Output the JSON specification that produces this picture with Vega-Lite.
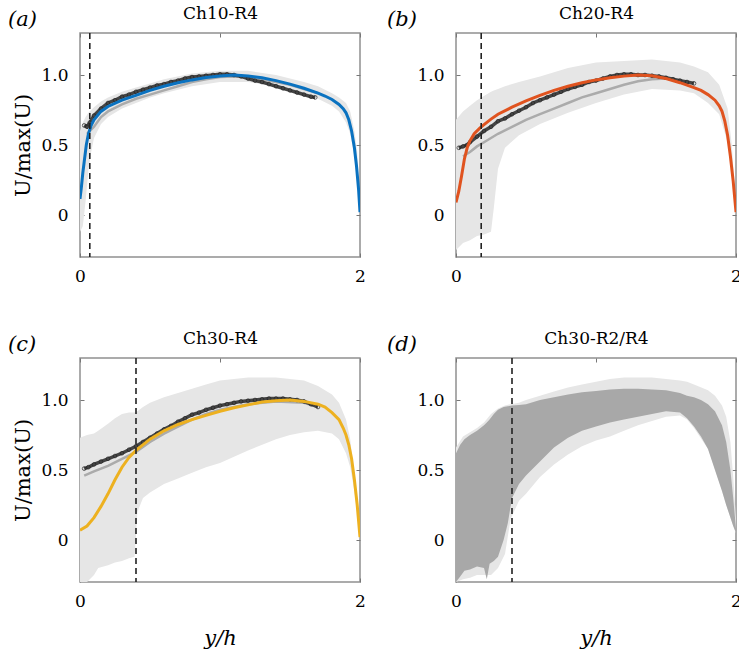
{
"$schema":"https://vega.github.io/schema/vega-lite/v6.json",
"padding":{"left":7,"top":3,"right":0,"bottom":0},
"config":{"view":{"stroke":"#909090","strokeWidth":1.5},"font":"DejaVu Serif",
 "title":{"font":"DejaVu Serif","fontSize":21,"fontWeight":"normal","color":"#000"},
 "axis":{"domain":false,"grid":false,"labelFlush":false,"labelFont":"DejaVu Serif","labelFontSize":17,"labelColor":"#000","tickColor":"#777","tickSize":-4,"tickWidth":1,"labelPadding":15,"titleFont":"DejaVu Serif","titleFontSize":21,"titleFontWeight":"normal","titleColor":"#000"},
 "axisY":{"labelPadding":16}},
"datasets":{
"a_env":[{"x":0,"lo":-0.12,"hi":0.6},{"x":0.02,"lo":-0.08,"hi":0.66},{"x":0.04,"lo":0.1,"hi":0.7},{"x":0.06,"lo":0.32,"hi":0.73},{"x":0.08,"lo":0.45,"hi":0.75},{"x":0.1,"lo":0.55,"hi":0.77},{"x":0.15,"lo":0.65,"hi":0.81},{"x":0.2,"lo":0.7,"hi":0.84},{"x":0.3,"lo":0.76,"hi":0.88},{"x":0.4,"lo":0.8,"hi":0.91},{"x":0.5,"lo":0.84,"hi":0.94},{"x":0.6,"lo":0.87,"hi":0.97},{"x":0.8,"lo":0.92,"hi":1.01},{"x":1.0,"lo":0.95,"hi":1.03},{"x":1.2,"lo":0.95,"hi":1.03},{"x":1.4,"lo":0.92,"hi":1.0},{"x":1.6,"lo":0.86,"hi":0.95},{"x":1.7,"lo":0.83,"hi":0.92},{"x":1.8,"lo":0.78,"hi":0.87},{"x":1.85,"lo":0.74,"hi":0.84},{"x":1.9,"lo":0.66,"hi":0.8},{"x":1.93,"lo":0.58,"hi":0.74},{"x":1.96,"lo":0.42,"hi":0.6},{"x":1.98,"lo":0.25,"hi":0.45},{"x":2.0,"lo":0.0,"hi":0.1}],
"a_fit":[{"x":0,"u":0.115},{"x":0.01,"u":0.2},{"x":0.02,"u":0.3},{"x":0.03,"u":0.38},{"x":0.045,"u":0.5},{"x":0.06,"u":0.58},{"x":0.08,"u":0.64},{"x":0.1,"u":0.68},{"x":0.15,"u":0.74},{"x":0.2,"u":0.775},{"x":0.3,"u":0.82},{"x":0.4,"u":0.855},{"x":0.5,"u":0.89},{"x":0.6,"u":0.92},{"x":0.7,"u":0.945},{"x":0.8,"u":0.965},{"x":0.9,"u":0.982},{"x":1.0,"u":0.993},{"x":1.1,"u":1.0},{"x":1.2,"u":0.993},{"x":1.3,"u":0.98},{"x":1.4,"u":0.96},{"x":1.5,"u":0.935},{"x":1.6,"u":0.905},{"x":1.7,"u":0.87},{"x":1.75,"u":0.85},{"x":1.8,"u":0.825},{"x":1.85,"u":0.79},{"x":1.88,"u":0.76},{"x":1.9,"u":0.73},{"x":1.92,"u":0.68},{"x":1.94,"u":0.6},{"x":1.96,"u":0.48},{"x":1.975,"u":0.35},{"x":1.99,"u":0.18},{"x":2.0,"u":0.02}],
"a_dark":[{"x":0.03,"u":0.64},{"x":0.05,"u":0.63},{"x":0.07,"u":0.66},{"x":0.1,"u":0.71},{"x":0.15,"u":0.76},{"x":0.2,"u":0.8},{"x":0.25,"u":0.82},{"x":0.3,"u":0.845},{"x":0.35,"u":0.86},{"x":0.4,"u":0.88},{"x":0.45,"u":0.895},{"x":0.5,"u":0.91},{"x":0.55,"u":0.925},{"x":0.6,"u":0.935},{"x":0.65,"u":0.95},{"x":0.7,"u":0.96},{"x":0.75,"u":0.975},{"x":0.8,"u":0.985},{"x":0.85,"u":0.99},{"x":0.9,"u":0.995},{"x":0.95,"u":1.0},{"x":1.0,"u":1.005},{"x":1.05,"u":1.005},{"x":1.1,"u":1.0},{"x":1.15,"u":0.99},{"x":1.2,"u":0.975},{"x":1.25,"u":0.96},{"x":1.3,"u":0.95},{"x":1.35,"u":0.935},{"x":1.4,"u":0.92},{"x":1.45,"u":0.905},{"x":1.5,"u":0.89},{"x":1.55,"u":0.875},{"x":1.6,"u":0.86},{"x":1.65,"u":0.845},{"x":1.68,"u":0.84}],
"a_gray":[{"x":0.05,"u":0.58},{"x":0.1,"u":0.63},{"x":0.15,"u":0.7},{"x":0.2,"u":0.74},{"x":0.3,"u":0.79},{"x":0.4,"u":0.83},{"x":0.5,"u":0.86},{"x":0.6,"u":0.89},{"x":0.7,"u":0.92},{"x":0.8,"u":0.95},{"x":0.9,"u":0.97},{"x":1.0,"u":0.985},{"x":1.1,"u":0.99},{"x":1.2,"u":0.985},{"x":1.3,"u":0.97},{"x":1.4,"u":0.95},{"x":1.5,"u":0.93},{"x":1.6,"u":0.9},{"x":1.7,"u":0.87}],
"a_cut":[{"x":0.07}],
"b_env":[{"x":0,"lo":-0.25,"hi":0.68},{"x":0.05,"lo":-0.2,"hi":0.74},{"x":0.1,"lo":-0.18,"hi":0.78},{"x":0.15,"lo":-0.15,"hi":0.82},{"x":0.2,"lo":-0.14,"hi":0.85},{"x":0.25,"lo":-0.12,"hi":0.88},{"x":0.27,"lo":0.05,"hi":0.89},{"x":0.3,"lo":0.33,"hi":0.9},{"x":0.35,"lo":0.48,"hi":0.92},{"x":0.45,"lo":0.57,"hi":0.95},{"x":0.6,"lo":0.65,"hi":0.99},{"x":0.8,"lo":0.73,"hi":1.05},{"x":1.0,"lo":0.8,"hi":1.09},{"x":1.2,"lo":0.86,"hi":1.1},{"x":1.4,"lo":0.9,"hi":1.11},{"x":1.6,"lo":0.89,"hi":1.09},{"x":1.7,"lo":0.87,"hi":1.06},{"x":1.8,"lo":0.8,"hi":1.02},{"x":1.88,"lo":0.72,"hi":0.93},{"x":1.94,"lo":0.52,"hi":0.76},{"x":1.97,"lo":0.3,"hi":0.5},{"x":2.0,"lo":0.0,"hi":0.05}],
"b_fit":[{"x":0,"u":0.09},{"x":0.02,"u":0.17},{"x":0.04,"u":0.28},{"x":0.06,"u":0.4},{"x":0.08,"u":0.48},{"x":0.1,"u":0.53},{"x":0.13,"u":0.58},{"x":0.17,"u":0.62},{"x":0.2,"u":0.645},{"x":0.25,"u":0.685},{"x":0.3,"u":0.72},{"x":0.4,"u":0.77},{"x":0.5,"u":0.815},{"x":0.6,"u":0.855},{"x":0.7,"u":0.89},{"x":0.8,"u":0.92},{"x":0.9,"u":0.945},{"x":1.0,"u":0.965},{"x":1.1,"u":0.98},{"x":1.2,"u":0.992},{"x":1.3,"u":1.0},{"x":1.4,"u":0.995},{"x":1.5,"u":0.975},{"x":1.6,"u":0.945},{"x":1.7,"u":0.91},{"x":1.75,"u":0.89},{"x":1.8,"u":0.86},{"x":1.85,"u":0.82},{"x":1.88,"u":0.78},{"x":1.9,"u":0.74},{"x":1.92,"u":0.67},{"x":1.94,"u":0.57},{"x":1.96,"u":0.42},{"x":1.98,"u":0.24},{"x":2.0,"u":0.02}],
"b_dark":[{"x":0.02,"u":0.48},{"x":0.05,"u":0.49},{"x":0.08,"u":0.5},{"x":0.1,"u":0.52},{"x":0.15,"u":0.56},{"x":0.2,"u":0.6},{"x":0.25,"u":0.63},{"x":0.3,"u":0.67},{"x":0.35,"u":0.69},{"x":0.4,"u":0.72},{"x":0.45,"u":0.745},{"x":0.5,"u":0.77},{"x":0.55,"u":0.8},{"x":0.6,"u":0.82},{"x":0.65,"u":0.84},{"x":0.7,"u":0.86},{"x":0.75,"u":0.88},{"x":0.8,"u":0.9},{"x":0.85,"u":0.915},{"x":0.9,"u":0.93},{"x":0.95,"u":0.95},{"x":1.0,"u":0.96},{"x":1.05,"u":0.975},{"x":1.1,"u":0.99},{"x":1.15,"u":1.0},{"x":1.2,"u":1.005},{"x":1.25,"u":1.005},{"x":1.3,"u":1.0},{"x":1.35,"u":1.0},{"x":1.4,"u":0.995},{"x":1.45,"u":0.99},{"x":1.5,"u":0.98},{"x":1.55,"u":0.97},{"x":1.6,"u":0.96},{"x":1.65,"u":0.95},{"x":1.7,"u":0.94}],
"b_gray":[{"x":0.05,"u":0.42},{"x":0.1,"u":0.45},{"x":0.15,"u":0.49},{"x":0.2,"u":0.52},{"x":0.3,"u":0.58},{"x":0.4,"u":0.63},{"x":0.5,"u":0.68},{"x":0.6,"u":0.72},{"x":0.7,"u":0.76},{"x":0.8,"u":0.8},{"x":0.9,"u":0.84},{"x":1.0,"u":0.87},{"x":1.1,"u":0.9},{"x":1.2,"u":0.93},{"x":1.3,"u":0.955},{"x":1.4,"u":0.97},{"x":1.5,"u":0.975},{"x":1.6,"u":0.96},{"x":1.7,"u":0.94}],
"b_cut":[{"x":0.18}],
"c_env":[{"x":0,"lo":-0.3,"hi":0.73},{"x":0.05,"lo":-0.3,"hi":0.75},{"x":0.1,"lo":-0.25,"hi":0.76},{"x":0.13,"lo":-0.2,"hi":0.78},{"x":0.2,"lo":-0.18,"hi":0.83},{"x":0.25,"lo":-0.16,"hi":0.87},{"x":0.3,"lo":-0.15,"hi":0.9},{"x":0.35,"lo":-0.13,"hi":0.91},{"x":0.39,"lo":-0.12,"hi":0.91},{"x":0.41,"lo":0.2,"hi":0.92},{"x":0.45,"lo":0.3,"hi":0.95},{"x":0.5,"lo":0.34,"hi":0.98},{"x":0.6,"lo":0.4,"hi":1.02},{"x":0.7,"lo":0.44,"hi":1.05},{"x":0.8,"lo":0.48,"hi":1.08},{"x":0.9,"lo":0.52,"hi":1.11},{"x":1.0,"lo":0.55,"hi":1.14},{"x":1.2,"lo":0.64,"hi":1.16},{"x":1.4,"lo":0.72,"hi":1.16},{"x":1.5,"lo":0.75,"hi":1.15},{"x":1.6,"lo":0.77,"hi":1.14},{"x":1.7,"lo":0.78,"hi":1.1},{"x":1.8,"lo":0.76,"hi":1.04},{"x":1.85,"lo":0.72,"hi":0.98},{"x":1.9,"lo":0.62,"hi":0.86},{"x":1.93,"lo":0.52,"hi":0.72},{"x":1.96,"lo":0.35,"hi":0.45},{"x":1.98,"lo":0.2,"hi":0.25},{"x":2.0,"lo":0.0,"hi":0.05}],
"c_fit":[{"x":0,"u":0.07},{"x":0.05,"u":0.1},{"x":0.1,"u":0.16},{"x":0.15,"u":0.24},{"x":0.2,"u":0.33},{"x":0.25,"u":0.43},{"x":0.3,"u":0.52},{"x":0.35,"u":0.59},{"x":0.4,"u":0.64},{"x":0.5,"u":0.72},{"x":0.6,"u":0.78},{"x":0.7,"u":0.825},{"x":0.8,"u":0.86},{"x":0.9,"u":0.89},{"x":1.0,"u":0.92},{"x":1.1,"u":0.945},{"x":1.2,"u":0.965},{"x":1.3,"u":0.985},{"x":1.4,"u":0.995},{"x":1.5,"u":1.0},{"x":1.6,"u":0.99},{"x":1.7,"u":0.97},{"x":1.75,"u":0.95},{"x":1.8,"u":0.91},{"x":1.85,"u":0.86},{"x":1.88,"u":0.8},{"x":1.9,"u":0.75},{"x":1.92,"u":0.68},{"x":1.94,"u":0.58},{"x":1.96,"u":0.43},{"x":1.98,"u":0.25},{"x":2.0,"u":0.02}],
"c_dark":[{"x":0.03,"u":0.51},{"x":0.06,"u":0.52},{"x":0.1,"u":0.54},{"x":0.15,"u":0.56},{"x":0.2,"u":0.58},{"x":0.25,"u":0.6},{"x":0.3,"u":0.62},{"x":0.35,"u":0.645},{"x":0.4,"u":0.67},{"x":0.45,"u":0.7},{"x":0.5,"u":0.73},{"x":0.55,"u":0.76},{"x":0.6,"u":0.79},{"x":0.65,"u":0.815},{"x":0.7,"u":0.845},{"x":0.75,"u":0.87},{"x":0.8,"u":0.895},{"x":0.85,"u":0.91},{"x":0.9,"u":0.93},{"x":0.95,"u":0.945},{"x":1.0,"u":0.96},{"x":1.05,"u":0.97},{"x":1.1,"u":0.98},{"x":1.15,"u":0.99},{"x":1.2,"u":0.995},{"x":1.25,"u":1.0},{"x":1.3,"u":1.005},{"x":1.35,"u":1.01},{"x":1.4,"u":1.01},{"x":1.45,"u":1.01},{"x":1.5,"u":1.005},{"x":1.55,"u":1.0},{"x":1.6,"u":0.99},{"x":1.65,"u":0.97},{"x":1.7,"u":0.95}],
"c_gray":[{"x":0.03,"u":0.46},{"x":0.1,"u":0.49},{"x":0.2,"u":0.53},{"x":0.3,"u":0.58},{"x":0.4,"u":0.63},{"x":0.5,"u":0.7},{"x":0.6,"u":0.76},{"x":0.7,"u":0.81},{"x":0.8,"u":0.86},{"x":0.9,"u":0.9},{"x":1.0,"u":0.93},{"x":1.2,"u":0.97},{"x":1.4,"u":0.99},{"x":1.6,"u":0.98},{"x":1.7,"u":0.95}],
"c_cut":[{"x":0.4}],
"d_light":[{"x":0,"lo":-0.3,"hi":0.66},{"x":0.05,"lo":-0.28,"hi":0.74},{"x":0.1,"lo":-0.27,"hi":0.77},{"x":0.15,"lo":-0.25,"hi":0.8},{"x":0.2,"lo":-0.25,"hi":0.84},{"x":0.25,"lo":-0.25,"hi":0.9},{"x":0.3,"lo":-0.2,"hi":0.94},{"x":0.35,"lo":-0.1,"hi":0.96},{"x":0.39,"lo":0.15,"hi":0.97},{"x":0.45,"lo":0.28,"hi":0.98},{"x":0.5,"lo":0.33,"hi":1.0},{"x":0.6,"lo":0.45,"hi":1.03},{"x":0.7,"lo":0.54,"hi":1.06},{"x":0.8,"lo":0.61,"hi":1.09},{"x":0.9,"lo":0.67,"hi":1.11},{"x":1.0,"lo":0.71,"hi":1.13},{"x":1.1,"lo":0.74,"hi":1.15},{"x":1.2,"lo":0.78,"hi":1.16},{"x":1.3,"lo":0.82,"hi":1.16},{"x":1.4,"lo":0.85,"hi":1.16},{"x":1.5,"lo":0.88,"hi":1.15},{"x":1.6,"lo":0.89,"hi":1.14},{"x":1.65,"lo":0.86,"hi":1.13},{"x":1.7,"lo":0.8,"hi":1.11},{"x":1.8,"lo":0.65,"hi":1.07},{"x":1.85,"lo":0.5,"hi":1.03},{"x":1.9,"lo":0.35,"hi":0.96},{"x":1.93,"lo":0.25,"hi":0.88},{"x":1.96,"lo":0.16,"hi":0.7},{"x":1.98,"lo":0.1,"hi":0.45},{"x":2.0,"lo":0.05,"hi":0.15}],
"d_dark":[{"x":0,"lo":-0.3,"hi":0.62},{"x":0.03,"lo":-0.26,"hi":0.68},{"x":0.06,"lo":-0.22,"hi":0.72},{"x":0.1,"lo":-0.21,"hi":0.75},{"x":0.15,"lo":-0.19,"hi":0.78},{"x":0.2,"lo":-0.2,"hi":0.82},{"x":0.22,"lo":-0.28,"hi":0.84},{"x":0.24,"lo":-0.17,"hi":0.86},{"x":0.27,"lo":-0.15,"hi":0.9},{"x":0.3,"lo":-0.12,"hi":0.93},{"x":0.34,"lo":0.0,"hi":0.95},{"x":0.37,"lo":0.12,"hi":0.955},{"x":0.4,"lo":0.3,"hi":0.96},{"x":0.45,"lo":0.4,"hi":0.965},{"x":0.5,"lo":0.46,"hi":0.97},{"x":0.6,"lo":0.56,"hi":1.0},{"x":0.7,"lo":0.66,"hi":1.02},{"x":0.8,"lo":0.73,"hi":1.04},{"x":0.9,"lo":0.78,"hi":1.055},{"x":1.0,"lo":0.81,"hi":1.065},{"x":1.1,"lo":0.84,"hi":1.075},{"x":1.2,"lo":0.86,"hi":1.08},{"x":1.3,"lo":0.88,"hi":1.08},{"x":1.4,"lo":0.9,"hi":1.075},{"x":1.5,"lo":0.92,"hi":1.07},{"x":1.6,"lo":0.91,"hi":1.05},{"x":1.65,"lo":0.87,"hi":1.03},{"x":1.7,"lo":0.81,"hi":1.02},{"x":1.75,"lo":0.74,"hi":1.0},{"x":1.8,"lo":0.65,"hi":0.97},{"x":1.85,"lo":0.5,"hi":0.92},{"x":1.9,"lo":0.35,"hi":0.82},{"x":1.93,"lo":0.25,"hi":0.7},{"x":1.96,"lo":0.16,"hi":0.5},{"x":1.98,"lo":0.1,"hi":0.3},{"x":2.0,"lo":0.05,"hi":0.08}],
"d_cut":[{"x":0.4}]
},
"concat":[
{"width":280,"height":224,
 "title":{"text":"(a)","anchor":"start","frame":"group","dx":-72,"offset":-43,"baseline":"alphabetic","fontStyle":"italic"},
 "resolve":{"axis":{"x":"independent","y":"independent"}},
 "layer":[
  {"data":{"name":"a_env"},"mark":{"type":"area","color":"#e6e6e6","clip":true},"encoding":{"x":{"field":"x","type":"quantitative","scale":{"domain":[0,2],"nice":false},"axis":{"orient":"bottom","values":[0,1,2],"format":"d","title":null}},"y":{"field":"lo","type":"quantitative","scale":{"domain":[-0.3,1.3],"nice":false,"zero":false},"axis":{"orient":"left","values":[0,0.5,1],"labelExpr":"datum.value == 0 ? '0' : format(datum.value, '.1f')","title":"U/max(U)","titleX":-51,"titleY":112,"titleBaseline":"alphabetic"}},"y2":{"field":"hi"}}},
  {"data":{"name":"a_gray"},"mark":{"type":"line","color":"#ababab","strokeWidth":2.5,"clip":true},"encoding":{"x":{"field":"x","type":"quantitative","scale":{"domain":[0,2],"nice":false},"axis":null},"y":{"field":"u","type":"quantitative","scale":{"domain":[-0.3,1.3],"nice":false,"zero":false},"axis":null}}},
  {"data":{"name":"a_dark"},"mark":{"type":"line","color":"#444","strokeWidth":3.5,"clip":true},"encoding":{"x":{"field":"x","type":"quantitative","scale":{"domain":[0,2],"nice":false},"axis":null},"y":{"field":"u","type":"quantitative","scale":{"domain":[-0.3,1.3],"nice":false,"zero":false},"axis":null}}},
  {"data":{"name":"a_dark"},"mark":{"type":"point","shape":"circle","filled":false,"size":14,"color":"#222","strokeWidth":1,"clip":true},"encoding":{"x":{"field":"x","type":"quantitative","scale":{"domain":[0,2],"nice":false},"axis":null},"y":{"field":"u","type":"quantitative","scale":{"domain":[-0.3,1.3],"nice":false,"zero":false},"axis":null}}},
  {"data":{"name":"a_fit"},"mark":{"type":"line","color":"#0a72c0","strokeWidth":3,"clip":true},"encoding":{"x":{"field":"x","type":"quantitative","scale":{"domain":[0,2],"nice":false},"axis":{"orient":"top","values":[0,1,2],"labels":false,"title":"Ch10-R4","titleX":140,"titleY":-15,"titleBaseline":"alphabetic","titleFontSize":17}},"y":{"field":"u","type":"quantitative","scale":{"domain":[-0.3,1.3],"nice":false,"zero":false},"axis":{"orient":"right","values":[0,0.5,1],"labels":false,"title":null}}}},
  {"data":{"name":"a_cut"},"mark":{"type":"rule","color":"#222","strokeWidth":1.6,"strokeDash":[6,4]},"encoding":{"x":{"field":"x","type":"quantitative","scale":{"domain":[0,2],"nice":false},"axis":null}}}
 ]},
{"width":280,"height":224,
 "title":{"text":"(b)","anchor":"start","frame":"group","dx":-69,"offset":-43,"baseline":"alphabetic","fontStyle":"italic"},
 "resolve":{"axis":{"x":"independent","y":"independent"}},
 "layer":[
  {"data":{"name":"b_env"},"mark":{"type":"area","color":"#e6e6e6","clip":true},"encoding":{"x":{"field":"x","type":"quantitative","scale":{"domain":[0,2],"nice":false},"axis":{"orient":"bottom","values":[0,1,2],"format":"d","title":null}},"y":{"field":"lo","type":"quantitative","scale":{"domain":[-0.3,1.3],"nice":false,"zero":false},"axis":{"orient":"left","values":[0,0.5,1],"labelExpr":"datum.value == 0 ? '0' : format(datum.value, '.1f')","title":null}},"y2":{"field":"hi"}}},
  {"data":{"name":"b_gray"},"mark":{"type":"line","color":"#ababab","strokeWidth":2.5,"clip":true},"encoding":{"x":{"field":"x","type":"quantitative","scale":{"domain":[0,2],"nice":false},"axis":null},"y":{"field":"u","type":"quantitative","scale":{"domain":[-0.3,1.3],"nice":false,"zero":false},"axis":null}}},
  {"data":{"name":"b_dark"},"mark":{"type":"line","color":"#444","strokeWidth":3.5,"clip":true},"encoding":{"x":{"field":"x","type":"quantitative","scale":{"domain":[0,2],"nice":false},"axis":null},"y":{"field":"u","type":"quantitative","scale":{"domain":[-0.3,1.3],"nice":false,"zero":false},"axis":null}}},
  {"data":{"name":"b_dark"},"mark":{"type":"point","shape":"circle","filled":false,"size":14,"color":"#222","strokeWidth":1,"clip":true},"encoding":{"x":{"field":"x","type":"quantitative","scale":{"domain":[0,2],"nice":false},"axis":null},"y":{"field":"u","type":"quantitative","scale":{"domain":[-0.3,1.3],"nice":false,"zero":false},"axis":null}}},
  {"data":{"name":"b_fit"},"mark":{"type":"line","color":"#e0531f","strokeWidth":3,"clip":true},"encoding":{"x":{"field":"x","type":"quantitative","scale":{"domain":[0,2],"nice":false},"axis":{"orient":"top","values":[0,1,2],"labels":false,"title":"Ch20-R4","titleX":140,"titleY":-15,"titleBaseline":"alphabetic","titleFontSize":17}},"y":{"field":"u","type":"quantitative","scale":{"domain":[-0.3,1.3],"nice":false,"zero":false},"axis":{"orient":"right","values":[0,0.5,1],"labels":false,"title":null}}}},
  {"data":{"name":"b_cut"},"mark":{"type":"rule","color":"#222","strokeWidth":1.6,"strokeDash":[6,4]},"encoding":{"x":{"field":"x","type":"quantitative","scale":{"domain":[0,2],"nice":false},"axis":null}}}
 ]},
{"width":280,"height":224,
 "title":{"text":"(c)","anchor":"start","frame":"group","dx":-72,"offset":-43,"baseline":"alphabetic","fontStyle":"italic"},
 "resolve":{"axis":{"x":"independent","y":"independent"}},
 "layer":[
  {"data":{"name":"c_env"},"mark":{"type":"area","color":"#e6e6e6","clip":true},"encoding":{"x":{"field":"x","type":"quantitative","scale":{"domain":[0,2],"nice":false},"axis":{"orient":"bottom","values":[0,1,2],"format":"d","title":"y/h","titleFontStyle":"italic","titleX":140,"titleY":62,"titleBaseline":"alphabetic"}},"y":{"field":"lo","type":"quantitative","scale":{"domain":[-0.3,1.3],"nice":false,"zero":false},"axis":{"orient":"left","values":[0,0.5,1],"labelExpr":"datum.value == 0 ? '0' : format(datum.value, '.1f')","title":"U/max(U)","titleX":-51,"titleY":112,"titleBaseline":"alphabetic"}},"y2":{"field":"hi"}}},
  {"data":{"name":"c_gray"},"mark":{"type":"line","color":"#ababab","strokeWidth":2.5,"clip":true},"encoding":{"x":{"field":"x","type":"quantitative","scale":{"domain":[0,2],"nice":false},"axis":null},"y":{"field":"u","type":"quantitative","scale":{"domain":[-0.3,1.3],"nice":false,"zero":false},"axis":null}}},
  {"data":{"name":"c_dark"},"mark":{"type":"line","color":"#444","strokeWidth":3.5,"clip":true},"encoding":{"x":{"field":"x","type":"quantitative","scale":{"domain":[0,2],"nice":false},"axis":null},"y":{"field":"u","type":"quantitative","scale":{"domain":[-0.3,1.3],"nice":false,"zero":false},"axis":null}}},
  {"data":{"name":"c_dark"},"mark":{"type":"point","shape":"circle","filled":false,"size":14,"color":"#222","strokeWidth":1,"clip":true},"encoding":{"x":{"field":"x","type":"quantitative","scale":{"domain":[0,2],"nice":false},"axis":null},"y":{"field":"u","type":"quantitative","scale":{"domain":[-0.3,1.3],"nice":false,"zero":false},"axis":null}}},
  {"data":{"name":"c_fit"},"mark":{"type":"line","color":"#edb120","strokeWidth":3,"clip":true},"encoding":{"x":{"field":"x","type":"quantitative","scale":{"domain":[0,2],"nice":false},"axis":{"orient":"top","values":[0,1,2],"labels":false,"title":"Ch30-R4","titleX":140,"titleY":-15,"titleBaseline":"alphabetic","titleFontSize":17}},"y":{"field":"u","type":"quantitative","scale":{"domain":[-0.3,1.3],"nice":false,"zero":false},"axis":{"orient":"right","values":[0,0.5,1],"labels":false,"title":null}}}},
  {"data":{"name":"c_cut"},"mark":{"type":"rule","color":"#222","strokeWidth":1.6,"strokeDash":[6,4]},"encoding":{"x":{"field":"x","type":"quantitative","scale":{"domain":[0,2],"nice":false},"axis":null}}}
 ]},
{"width":280,"height":224,
 "title":{"text":"(d)","anchor":"start","frame":"group","dx":-69,"offset":-43,"baseline":"alphabetic","fontStyle":"italic"},
 "resolve":{"axis":{"x":"independent","y":"independent"}},
 "layer":[
  {"data":{"name":"d_light"},"mark":{"type":"area","color":"#e6e6e6","clip":true},"encoding":{"x":{"field":"x","type":"quantitative","scale":{"domain":[0,2],"nice":false},"axis":{"orient":"bottom","values":[0,1,2],"format":"d","title":"y/h","titleFontStyle":"italic","titleX":140,"titleY":62,"titleBaseline":"alphabetic"}},"y":{"field":"lo","type":"quantitative","scale":{"domain":[-0.3,1.3],"nice":false,"zero":false},"axis":{"orient":"left","values":[0,0.5,1],"labelExpr":"datum.value == 0 ? '0' : format(datum.value, '.1f')","title":null}},"y2":{"field":"hi"}}},
  {"data":{"name":"d_dark"},"mark":{"type":"area","color":"#a8a8a8","clip":true},"encoding":{"x":{"field":"x","type":"quantitative","scale":{"domain":[0,2],"nice":false},"axis":{"orient":"top","values":[0,1,2],"labels":false,"title":"Ch30-R2/R4","titleX":140,"titleY":-15,"titleBaseline":"alphabetic","titleFontSize":17}},"y":{"field":"lo","type":"quantitative","scale":{"domain":[-0.3,1.3],"nice":false,"zero":false},"axis":{"orient":"right","values":[0,0.5,1],"labels":false,"title":null}},"y2":{"field":"hi"}}},
  {"data":{"name":"d_cut"},"mark":{"type":"rule","color":"#222","strokeWidth":1.6,"strokeDash":[6,4]},"encoding":{"x":{"field":"x","type":"quantitative","scale":{"domain":[0,2],"nice":false},"axis":null}}}
 ]}
],
"columns":2,
"bounds":"flush",
"spacing":{"row":101,"column":96}
}
